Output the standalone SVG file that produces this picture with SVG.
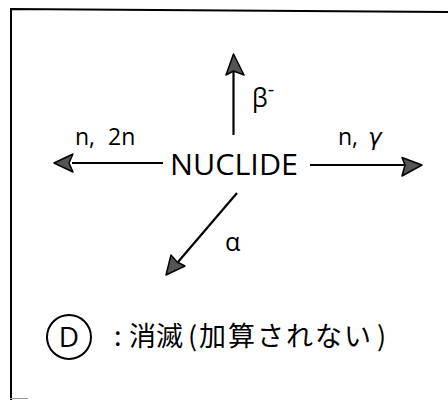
<svg xmlns="http://www.w3.org/2000/svg" width="448" height="400" viewBox="0 0 448 400">
<style>
.ln{stroke:#000;stroke-width:2.2;fill:none}
.hd{fill:#555;stroke:#000;stroke-width:1.5;stroke-linejoin:round}
.lb{font-family:"Open Sans","Noto Sans",sans-serif;font-size:23px;fill:#000}
.cj{font-family:"Noto Sans CJK JP","Noto Sans",sans-serif;font-size:27px;fill:#000}
</style>
<rect width="448" height="400" fill="#fff"/>
<g id="frame">
<path d="M11,400 L11,9 L448,12" fill="none" stroke="#000" stroke-width="2"/>
<line x1="10" y1="398.5" x2="28" y2="398.5" stroke="#999" stroke-width="1"/>
</g>
<g id="nuclide">
<text x="170" y="175" font-family="'Open Sans','Noto Sans',sans-serif" font-size="30" textLength="128" lengthAdjust="spacingAndGlyphs">NUCLIDE</text>
</g>
<g id="connectors">
<line class="ln" x1="233.5" y1="135" x2="233.5" y2="72"/>
<path class="hd" d="M233.5,54 L244,75 L233.5,71 L226,75 Z"/>
<line class="ln" x1="163" y1="163" x2="72" y2="163"/>
<path class="hd" d="M54,163 L73,154 L69,163 L73,172 Z"/>
<line class="ln" x1="310" y1="165" x2="404" y2="165"/>
<path class="hd" d="M422,165 L402,157.5 L405,165 L402,176 Z"/>
<line class="ln" x1="237" y1="193" x2="178" y2="262"/>
<path class="hd" d="M166,275 L171,255 L177,262 L185,266 Z"/>
</g>
<g id="labels">
<text class="lb" y="145"><tspan x="75">n,</tspan><tspan x="108">2n</tspan></text>
<text class="lb" y="145"><tspan x="338">n,</tspan><tspan x="368" font-style="italic" font-family="'DejaVu Sans',sans-serif">γ</tspan></text>
<text class="lb" x="252" y="107" style="font-size:25px">β<tspan style="font-size:20px" dy="-11">-</tspan></text>
<text class="lb" x="225" y="251" style="font-size:25px">α</text>
</g>
<g id="legend">
<circle cx="69" cy="337" r="22" fill="none" stroke="#000" stroke-width="2"/>
<text x="69" y="347" text-anchor="middle" font-family="'Open Sans',sans-serif" font-size="28">D</text>
<text class="cj" y="346"><tspan x="114">:</tspan><tspan x="129">消滅</tspan><tspan x="188">(</tspan><tspan x="199" letter-spacing="2">加算されない</tspan><tspan x="377">)</tspan></text>
</g>
</svg>
